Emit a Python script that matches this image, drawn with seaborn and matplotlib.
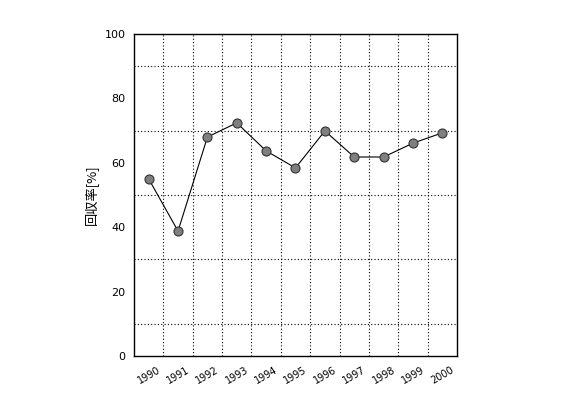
import matplotlib
matplotlib.use("Agg")
import matplotlib.pyplot as plt
import seaborn as sns
import pandas as pd
import numpy as np

years = [1990, 1991, 1992, 1993, 1994, 1995, 1996, 1997, 1998, 1999, 2000]
rates = [55.0, 38.8, 68.0, 72.4, 63.7, 58.4, 69.9, 61.8, 61.8, 66.1, 69.3]
ylabel = "回収率[%]"

sns.set_style("white")
plt.rcParams['font.family'] = ['Noto Sans CJK JP', 'DejaVu Sans']

df = pd.DataFrame({"year": years, "rate": rates})

fig = plt.figure(figsize=(5.62, 3.97), dpi=100)
ax = fig.add_axes([134/562, 41/397, 323/562, 322/397])
sns.lineplot(data=df, x="year", y="rate", ax=ax, color="black", linewidth=0.8,
             marker="o", markersize=6.5, markerfacecolor="#7f7f7f",
             markeredgecolor="#333333", markeredgewidth=0.8)

ax.set_xlim(1989.5, 2000.5)
ax.set_ylim(0, 100)
ax.set_xticks(years)
ax.set_xticklabels([str(y) for y in years], rotation=30, fontsize=7, family='DejaVu Sans',
                   color="black")
ax.set_xticks([y + 0.5 for y in years[:-1]], minor=True)
ax.set_yticks([0, 20, 40, 60, 80, 100])
ax.set_yticklabels(["0", "20", "40", "60", "80", "100"], fontsize=8, family='DejaVu Sans',
                   color="black")
ax.set_yticks([10, 30, 50, 70, 90], minor=True)
ax.grid(False)
ax.grid(which="minor", color="black", linestyle=(0, (1, 2)), linewidth=0.8)
ax.tick_params(axis="x", which="major", direction="in", length=4, width=0.8, color="black", pad=6)
ax.tick_params(axis="y", which="major", direction="out", length=4, width=0.8, color="black", pad=2)
ax.tick_params(which="minor", length=0)
for s in ax.spines.values():
    s.set_color("black")
    s.set_linewidth(1.0)
ax.set_xlabel("")
ax.set_ylabel(ylabel, fontsize=9.5, labelpad=5, color="black")

fig.savefig("out.png", dpi=100, facecolor="white")
